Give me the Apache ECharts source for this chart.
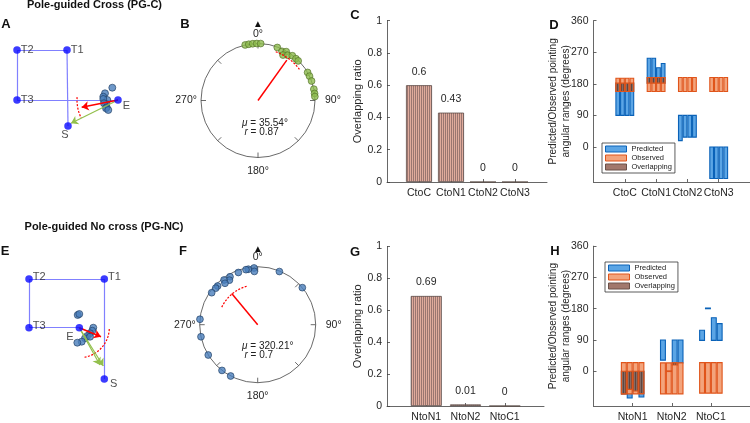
<!DOCTYPE html>
<html><head><meta charset="utf-8">
<script src="https://cdn.jsdelivr.net/npm/echarts@6/dist/echarts.min.js"></script>
<style>html,body{margin:0;padding:0;background:#fff}#c{width:750px;height:423px}</style>
</head><body><div id="c"></div>
<script>
// ================= DATA =================
// Panel A (maze diagram, units)
const mazeNamesA = ['T2','T1','T3','S','E'];
const mazePointsA = [[0,1],[1,1],[0,0],[1.02,-0.52],[2.02,0]];
const mazeEdges = [['T2','T1'],['T1','S'],['T2','T3'],['T3','E']];
const clusterA = [[1.906,0.246],[1.76,0.134],[1.726,0.066],[1.806,0],[1.726,0.02],[1.78,-0.08],[1.74,-0.066],[1.794,-0.146],[1.78,-0.166],[1.826,-0.2]];
const headingA = [1.294,-0.146];
const goalArrowsA = [[1.08,-0.466]];
const arcA = [0.82, 176, 206];           // radius, from deg, to deg
// Panel E
const mazeNamesE = ['T2','T1','T3','E','S'];
const mazePointsE = [[0,1],[1.546,1],[0,0],[1.033,0],[1.546,-1.053]];
const clusterE = [[1.0,0.261],[1.033,0.281],[1.32,0],[1.30,-0.062],[1.253,-0.115],[1.197,-0.17],[1.15,-0.218],[1.082,-0.287],[0.992,-0.308],[1.253,-0.185]];
const headingE = [1.478,-0.185];
const goalArrowsE = [[1.458,-0.766],[1.526,-0.786]];
const arcE = [0.616, -80, -2];
// Panel B (polar: [r, angle])
const pointsB = [[1,347],[1,350.7],[1,354.7],[1,358.7],[1,2.7],
  [0.99,20],[0.96,26],[0.99,30],[0.91,28.8],[0.95,33.3],[0.99,37.5],[0.99,42.2],[0.99,45.4],
  [1,60.5],[1,64.7],[1,70],[1,78.5],[1,82.9],[1,86]];
const meanB = [35.54, 0.87];
const ciB = [0.91, 20, 53];
// Panel F
const pointsF = [[0.98,356.3],[0.92,356.4],[0.97,350.4],[0.97,348],[0.96,339.7],[0.955,330],[0.91,327.6],
  [0.965,323],[0.91,321.7],[0.96,314],[0.96,311],[0.966,304.8],[0.99,22.2],[1,50.3],
  [1,275.4],[1,258],[1,238.5],[1,218],[1,207.8]];
const meanF = [320.21, 0.7];
const ciF = [0.69, 296, 344];
// Panel C / G
const catC = ['CtoC','CtoN1','CtoN2','CtoN3'];
const ratioC = [0.6, 0.43, 0, 0];
const catG = ['NtoN1','NtoN2','NtoC1'];
const ratioG = [0.69, 0.01, 0];
// Panel D (per category, 4 sub-ranges [low, high] in degrees)
const predD = [[[90,182],[90,182],[90,182],[90,182]],
               [[182,253],[182,253],[182,226],[182,238]],
               [[18,90],[28,90],[28,90],[28,90]],
               [[-90,0],[-90,0],[-90,0],[-90,0]]];
const obsD  = [[[158,196],[158,196],[158,196],[158,196]],
               [[158,198],[158,198],[158,198],[158,198]],
               [[158,198],[158,198],[158,198],[158,198]],
               [[158,198],[158,198],[158,198],[158,198]]];
const ovlD  = [[[158,182],[158,182],[158,182],[158,182]],
               [[182,198],[182,198],[182,198],[182,198]],
               [null,null,null,null],[null,null,null,null]];
// Panel H
const predH = [[[-65,0],[-77,0],[-57,0],[-74,0]],
               [[32,90],[0,1],[18,90],[24,90]],
               [[89,118],[180,182],[89,154],[89,137]]];
const obsH  = [[[-65,25],[-65,25],[-65,25],[-65,25]],
               [[-65,24],[-65,24],[-65,24],[-65,24]],
               [[-63,25],[-63,25],[-63,25],[-63,25]]];
const ovlH  = [[[-65,0],[-52,0],[-57,0],[-64,0]],
               [null,[0,1],[18,24],null],
               [null,null,null,null]];
const angleTicks = [0,90,180,270,360];

// ================= STYLE / HELPERS =================
const FONT = '"Liberation Sans", Arial, Helvetica, sans-serif';
const AX = '#404040', TX = '#262626';
const SUBW = 0.15, SUBOFF = [-0.225,-0.075,0.075,0.225];
function stripes(cols){
  const c = document.createElement('canvas'); c.width = cols.length; c.height = 1;
  const g = c.getContext('2d'); cols.forEach((col,i)=>{g.fillStyle=col; g.fillRect(i,0,1,1);});
  return {image:c, repeat:'repeat'};
}
const barPattern = stripes(['#e0ab9c','#9a7670']);
const ovlPattern = stripes(['#866a62','#5c4641']);
const BLUE_F = '#5ba5e5', BLUE_S = '#0a62b8', OR_F = '#f3a47c', OR_S = '#e0541a', OV_S = '#e0541a';

function rangeData(ranges){
  const out = [];
  ranges.forEach((cat,i)=>cat.forEach((r,j)=>{ if (r) out.push([i+1+SUBOFF[j], r[0], r[1]]); }));
  return out;
}
function rangeRender(fill, stroke){
  return function(params, api){
    const x = api.value(0), lo = api.value(1), hi = api.value(2);
    const a = api.coord([x - SUBW/2, hi]), b = api.coord([x + SUBW/2, lo]);
    return {type:'rect', shape:{x:a[0]+0.5, y:a[1], width:b[0]-a[0]-1, height:Math.max(b[1]-a[1], 0.6)},
            style:{fill:fill, stroke:stroke, lineWidth:1.1}};
  };
}
function arcPoints(cx, cy, arc){
  const pts = [];
  for (let a = arc[1]; a <= arc[2] + 1e-9; a += 1) {
    const t = a*Math.PI/180; pts.push([cx + arc[0]*Math.cos(t), cy + arc[0]*Math.sin(t)]);
  }
  return pts;
}
function polarArc(arc){
  const pts = [];
  for (let a = arc[1]; a <= arc[2] + 1e-9; a += 1) pts.push([arc[0], a]);
  return pts;
}
function hiddenAxis(grid, min, max){ return {type:'value', gridIndex:grid, min:min, max:max, show:false}; }
function catXAxis(grid, names){
  const cv = names.map((_,i)=>i+1);
  return {type:'value', gridIndex:grid, min:0, max:names.length+1, interval:1,
    axisLine:{show:true, onZero:false, lineStyle:{color:AX, width:0.8}},
    axisTick:{show:true, inside:true, length:3, customValues:cv, lineStyle:{color:AX, width:0.8}},
    axisLabel:{customValues:cv, formatter:v=>names[Math.round(v)-1]||'', margin:6, fontSize:10.5, color:TX, fontFamily:FONT},
    splitLine:{show:false}};
}
function ratioYAxis(grid){
  return {type:'value', gridIndex:grid, min:0, max:1, interval:0.2,
    name:'Overlapping ratio', nameLocation:'middle', nameGap:24, nameMoveOverlap:false,
    nameTextStyle:{fontSize:11, color:TX, fontFamily:FONT},
    axisLine:{show:true, onZero:false, lineStyle:{color:AX, width:0.8}},
    axisTick:{show:true, inside:true, length:3, lineStyle:{color:AX, width:0.8}},
    axisLabel:{margin:5, fontSize:10.5, color:TX, fontFamily:FONT}, splitLine:{show:false}};
}
function angleYAxis(grid){
  return {type:'value', gridIndex:grid, min:-100, max:360,
    name:'Predicted/Observed pointing\nangular ranges (degrees)', nameLocation:'middle', nameGap:21, nameMoveOverlap:false,
    nameTextStyle:{fontSize:10, lineHeight:13, color:TX, fontFamily:FONT},
    axisLine:{show:true, onZero:false, lineStyle:{color:AX, width:0.8}},
    axisTick:{show:true, inside:true, length:3, customValues:angleTicks, lineStyle:{color:AX, width:0.8}},
    axisLabel:{customValues:angleTicks, margin:5, fontSize:10.5, color:TX, fontFamily:FONT}, splitLine:{show:false}};
}
function angleAxis(pi){
  return {polarIndex:pi, type:'value', min:0, max:360, interval:45, startAngle:90, clockwise:true,
    axisLine:{show:true, lineStyle:{color:'#444', width:0.8}},
    axisTick:{show:true, inside:true, length:5, lineStyle:{color:'#444', width:0.8}},
    axisLabel:{margin:4, fontSize:10.5, color:TX, fontFamily:FONT,
      formatter:v=>{ if (v%90!==0 || v>=360) return ''; return v===90 ? '{r|'+v+'°}' : (v===180 ? '{b|'+v+'°}' : v+'°'); },
      rich:{r:{padding:[0,0,0,6], fontSize:10.5, fontFamily:FONT, color:TX}, b:{padding:[4,0,0,0], fontSize:10.5, fontFamily:FONT, color:TX}}},
    splitLine:{show:false}};
}
function radAxis(pi){ return {polarIndex:pi, type:'value', min:0, max:1, axisLine:{show:false}, axisTick:{show:false}, axisLabel:{show:false}, splitLine:{show:false}}; }

const labA = {T2:{p:'right',o:[-1,0]}, T1:{p:'right',o:[-1,0]}, T3:{p:'right',o:[-1,0]}, S:{p:'bottom',o:[-3,-1]}, E:{p:'right',o:[0,6]}};
const labE = {T2:{p:'right',o:[-1,-2]}, T1:{p:'right',o:[-1,-2]}, T3:{p:'right',o:[-1,-2]}, E:{p:'left',o:[-1,9]}, S:{p:'right',o:[1,5]}};
function mazeItems(names, pts, lab){
  return pts.map((p,i)=>({value:p, name:names[i], label:{position:lab[names[i]].p, offset:lab[names[i]].o}}));
}
function mazeLines(names, pts){
  const m = {}; names.forEach((n,i)=>m[n]=pts[i]);
  return mazeEdges.map(e=>({coords:[m[e[0]], m[e[1]]]}));
}
function diagramSeries(gi, names, pts, lab, cluster, heading, goals, arc){
  const m = {}; names.forEach((n,i)=>m[n]=pts[i]);
  const E = m['E'];
  return [
    {type:'lines', coordinateSystem:'cartesian2d', xAxisIndex:gi, yAxisIndex:gi, symbol:'none', z:2,
     lineStyle:{color:'#8080ff', width:1.2, opacity:1}, data:mazeLines(names, pts)},
    {type:'scatter', xAxisIndex:gi, yAxisIndex:gi, symbolSize:7, clip:false, z:3,
     itemStyle:{color:'#4a7ebb', borderColor:'#1c3a5e', borderWidth:0.8}, data:cluster},
    {type:'line', xAxisIndex:gi, yAxisIndex:gi, showSymbol:false, z:4, clip:false,
     lineStyle:{color:'#ff0000', width:1.2, type:[2,1.5]}, data:arcPoints(E[0], E[1], arc)},
    {type:'lines', coordinateSystem:'cartesian2d', xAxisIndex:gi, yAxisIndex:gi, symbol:['none','arrow'], symbolSize:7, z:5,
     lineStyle:{color:'#93c04d', width:1.2, opacity:1}, data:goals.map(g=>({coords:[E, g]}))},
    {type:'lines', coordinateSystem:'cartesian2d', xAxisIndex:gi, yAxisIndex:gi, symbol:['none','arrow'], symbolSize:7, z:6,
     lineStyle:{color:'#ff0000', width:1.6, opacity:1}, data:[{coords:[E, heading]}]},
    {type:'scatter', xAxisIndex:gi, yAxisIndex:gi, symbolSize:7.5, clip:false, z:7,
     itemStyle:{color:'#0a0aff'},
     label:{show:true, formatter:'{b}', distance:1, fontSize:11, color:'#222', fontFamily:FONT},
     data:mazeItems(names, pts, lab)}
  ];
}
function polarSeries(pi, pts, mean, ci, fill, stroke){
  return [
    {type:'scatter', coordinateSystem:'polar', polarIndex:pi, symbolSize:6.8, z:3,
     itemStyle:{color:fill, borderColor:stroke, borderWidth:0.8}, data:pts},
    {type:'line', coordinateSystem:'polar', polarIndex:pi, showSymbol:false, z:4,
     lineStyle:{color:'#ff0000', width:1.5}, data:[[0, mean[0]],[mean[1], mean[0]]]},
    {type:'line', coordinateSystem:'polar', polarIndex:pi, showSymbol:false, z:4,
     lineStyle:{color:'#ff0000', width:1.2, type:[2,1.5]}, data:polarArc(ci)}
  ];
}
function ratioBars(gi, vals, bw){
  return {type:'bar', xAxisIndex:gi, yAxisIndex:gi, barWidth:bw,
    itemStyle:{color:barPattern, borderColor:'#5c4b48', borderWidth:0.8},
    label:{show:true, position:'top', distance:8, fontSize:10.5, color:TX, fontFamily:FONT, formatter:p=>String(p.value[1])},
    data:vals.map((v,i)=>[i+1, v])};
}
function rangeSeries(gi, pred, obs, ovl){
  return [
    {type:'custom', name:'Predicted', xAxisIndex:gi, yAxisIndex:gi, itemStyle:{color:BLUE_F}, renderItem:rangeRender(BLUE_F, BLUE_S), data:rangeData(pred)},
    {type:'custom', name:'Observed', xAxisIndex:gi, yAxisIndex:gi, itemStyle:{color:OR_F}, renderItem:rangeRender(OR_F, OR_S), data:rangeData(obs)},
    {type:'custom', name:'Overlapping', xAxisIndex:gi, yAxisIndex:gi, itemStyle:{color:'#7a5e58'}, renderItem:rangeRender(ovlPattern, OV_S), data:rangeData(ovl)}
  ];
}
function legendAt(left, top){
  return {left:left, top:top, orient:'vertical', icon:'rect', itemWidth:21, itemHeight:6, itemGap:1,
    padding:[2,3,2,3], borderColor:'#333', borderWidth:0.8, backgroundColor:'#fff', selectedMode:false,
    textStyle:{fontSize:7.5, lineHeight:8, color:'#222', fontFamily:FONT},
    data:[{name:'Predicted', itemStyle:{color:BLUE_F, borderColor:BLUE_S, borderWidth:1}},
          {name:'Observed', itemStyle:{color:OR_F, borderColor:OR_S, borderWidth:1}},
          {name:'Overlapping', itemStyle:{color:stripes(['#b98576','#8a6a62']), borderColor:'#6a5048', borderWidth:1}}]};
}
function txt(x, y, s, font, align){
  return {type:'text', x:x, y:y, style:{text:s, font:font, fill:'#111', align:align||'center', verticalAlign:'middle'}};
}
function muText(x, y, mu, r){
  return [
    {type:'text', x:x, y:y, style:{text:'{i|μ} = '+mu+'°', align:'left', verticalAlign:'middle', font:'10px '+FONT, fill:'#222', rich:{i:{fontStyle:'italic', fontSize:10, fontFamily:FONT}}}},
    {type:'text', x:x+2.5, y:y+8.5, style:{text:'{i|r} = '+r, align:'left', verticalAlign:'middle', font:'10px '+FONT, fill:'#222', rich:{i:{fontStyle:'italic', fontSize:10, fontFamily:FONT}}}}
  ];
}

// ================= OPTION =================
const option = {
  animation:false,
  textStyle:{fontFamily:FONT},
  grid:[
    {left:7, top:40, width:130, height:100},
    {left:9.52, top:259.52, width:116.88, height:136.36},
    {left:387, top:20.7, width:160, height:161.3},
    {left:593.5, top:20.7, width:156.5, height:161.3},
    {left:387, top:246.5, width:157, height:160.8},
    {left:593.5, top:246.2, width:156.5, height:161.1}
  ],
  xAxis:[hiddenAxis(0,-0.2,2.4), hiddenAxis(1,-0.4,2.0), catXAxis(2,catC), catXAxis(3,catC), catXAxis(4,catG), catXAxis(5,catG)],
  yAxis:[hiddenAxis(0,-0.8,1.2), hiddenAxis(1,-1.4,1.4), ratioYAxis(2), angleYAxis(3), ratioYAxis(4), angleYAxis(5)],
  polar:[{center:[258,100.5], radius:57}, {center:[257.7,324.7], radius:58}],
  angleAxis:[angleAxis(0), angleAxis(1)],
  radiusAxis:[radAxis(0), radAxis(1)],
  legend:[legendAt(602,143), legendAt(605,262)],
  series:[].concat(
    diagramSeries(0, mazeNamesA, mazePointsA, labA, clusterA, headingA, goalArrowsA, arcA),
    diagramSeries(1, mazeNamesE, mazePointsE, labE, clusterE, headingE, goalArrowsE, arcE),
    polarSeries(0, pointsB, meanB, ciB, '#8dbb4e', '#4d6b22'),
    polarSeries(1, pointsF, meanF, ciF, '#4a7ebb', '#1c3a5e'),
    [ratioBars(2, ratioC, 26), ratioBars(4, ratioG, 31)],
    rangeSeries(3, predD, obsD, ovlD),
    rangeSeries(5, predH, obsH, ovlH)
  ),
  graphic:[].concat([
    txt(94.5, 5, 'Pole-guided Cross (PG-C)', 'bold 11px '+FONT),
    txt(104, 226.7, 'Pole-guided No cross (PG-NC)', 'bold 11px '+FONT),
    txt(6, 24, 'A', 'bold 13px '+FONT), txt(185, 24, 'B', 'bold 13px '+FONT),
    txt(355, 15, 'C', 'bold 13px '+FONT), txt(554, 25, 'D', 'bold 13px '+FONT),
    txt(5, 251.7, 'E', 'bold 13px '+FONT), txt(183, 251.7, 'F', 'bold 13px '+FONT),
    txt(355, 252.7, 'G', 'bold 13px '+FONT), txt(555, 251.7, 'H', 'bold 13px '+FONT),
    txt(258, 24.5, '▲', '7.5px "DejaVu Sans"'), txt(258, 249.5, '▲', '7.5px "DejaVu Sans"')
  ], muText(242, 123.3, '35.54', '0.87'), muText(242, 346.7, '320.21', '0.7'))
};
const chart = echarts.init(document.getElementById('c'), null, {renderer:'canvas'});
chart.setOption(option);
</script></body></html>
